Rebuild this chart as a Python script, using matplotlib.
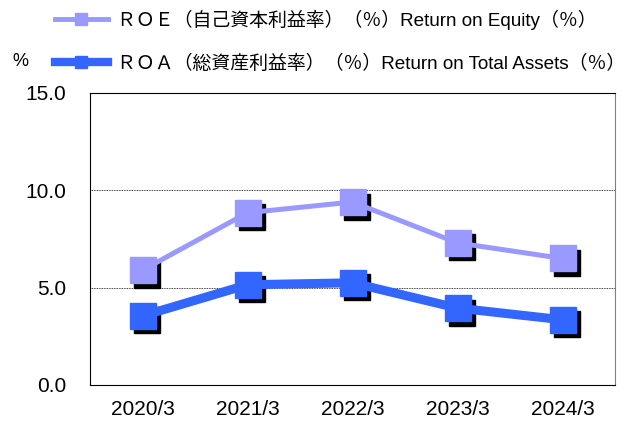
import matplotlib.pyplot as plt
import matplotlib.transforms as mtransforms
from matplotlib.lines import Line2D

plt.rcParams['font.family'] = ['Liberation Sans', 'Noto Sans CJK JP']

years = ["2020/3", "2021/3", "2022/3", "2023/3", "2024/3"]
roe = [5.9, 8.85, 9.4, 7.3, 6.5]
roa = [3.55, 5.15, 5.25, 3.95, 3.35]
roe_label = "ＲＯＥ（自己資本利益率）（％）Return on Equity（％）"
roa_label = "ＲＯＡ（総資産利益率）（％）Return on Total Assets（％）"

roe_color = "#9999FF"
roa_color = "#3366FF"

fig = plt.figure(figsize=(6.36, 4.29), dpi=100)
ax = fig.add_axes([90 / 636, 1 - 385 / 429, 525 / 636, 292 / 429])

x = list(range(len(years)))
shadow = mtransforms.offset_copy(ax.transData, fig=fig, x=4.5, y=-4.5, units='dots')

for vals in (roe, roa):
    ax.plot(x, vals, linestyle='none', marker='s', markersize=19,
            color='black', transform=shadow, zorder=2)
ax.plot(x, roe, color=roe_color, linewidth=3.6, zorder=3)
ax.plot(x, roa, color=roa_color, linewidth=6.5, zorder=3)
ax.plot(x, roe, linestyle='none', marker='s', markersize=19, color=roe_color, zorder=4)
ax.plot(x, roa, linestyle='none', marker='s', markersize=19, color=roa_color, zorder=4)

ax.set_xlim(-0.5, 4.5)
ax.set_ylim(0, 15)
ax.set_yticks([0, 5, 10, 15])
ax.set_yticklabels(["0.0", "5.0", "10.0", "15.0"], fontsize=15)
ax.set_xticks(x)
ax.set_xticklabels(years, fontsize=15)
ax.tick_params(axis='y', length=0, pad=17)
ax.tick_params(axis='x', length=0, pad=11)
for y in (5, 10):
    ax.axhline(y, color='black', linewidth=0.6, linestyle=(0, (1, 1)), zorder=1)
ax.spines['right'].set_color('#808080')
ax.spines['top'].set_linestyle((0, (1, 1)))
ax.spines['top'].set_linewidth(0.8)

handles = [
    Line2D([], [], color=roe_color, linewidth=3.5, marker='s', markersize=8),
    Line2D([], [], color=roa_color, linewidth=6, marker='s', markersize=9),
]
fig.legend(handles, [roe_label, roa_label], loc='upper left',
           bbox_to_anchor=(38 / 636, 1.017), frameon=False, fontsize=13.6,
           handlelength=2.8, handletextpad=0.5, labelspacing=1.3)
fig.text(12 / 636, 1 - 62 / 429, "%", fontsize=13, va='center')

fig.savefig("out.png", dpi=100)
